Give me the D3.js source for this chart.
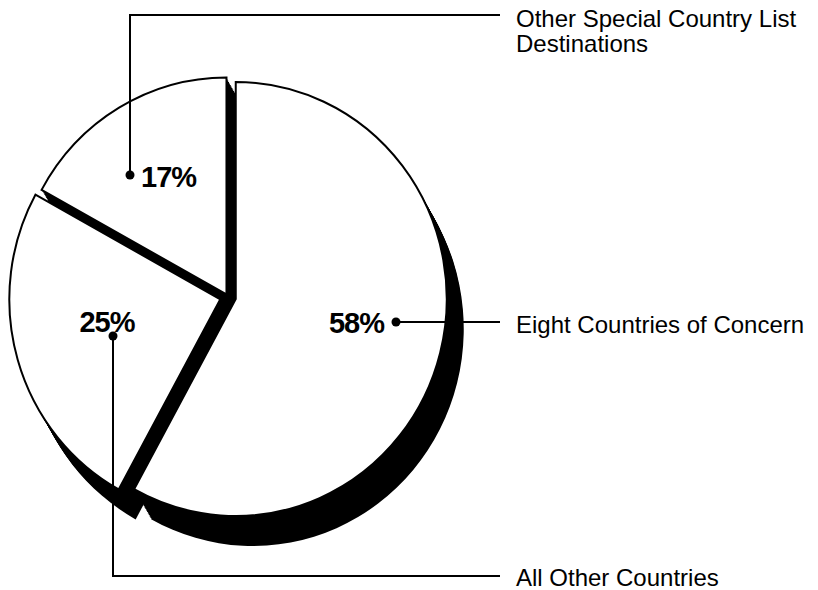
<!doctype html>
<html lang="en">
<head>
<meta charset="utf-8">
<title>Share of destinations</title>
<script src="https://cdn.jsdelivr.net/npm/d3@7/dist/d3.min.js"></script>
<style>
  body { margin: 0; background: #fff; }
  svg { display: block; }
  .pct { font-family: "Liberation Sans", Arial, sans-serif; font-weight: bold; font-size: 29px; letter-spacing: -1px; }
  .name { font-family: "Liberation Sans", Arial, sans-serif; font-size: 24px; }
</style>
</head>
<body>
<div id="chart"></div>
<script>
// data
var categories = ["Eight Countries of Concern", "All Other Countries", "Other Special Country List Destinations"];
var shares = [58, 25, 17];
var pctLabels = ["58%", "25%", "17%"];
var nameLines = [["Eight Countries of Concern"], ["All Other Countries"], ["Other Special Country List", "Destinations"]];

// layout
var width = 818, height = 590;
var cx = 228, cy = 297, rx = 211, ry = 217;
var explode = [8, 8, 3];
var shadow = { dx: 17, dy: 30 };
var rightX = 500, textX = 516;
// leader: dot position, y of the horizontal run to the right, label placement
var leaders = [
  { dot: [396, 322], runY: 322, text: [384, 333, "end"], nameDy: 11 },
  { dot: [113, 336], runY: 576, text: [107, 332, "middle"], nameDy: 10 },
  { dot: [130, 175], runY: 15, text: [141, 187, "start"], nameDy: 12 }
];

var svg = d3.select("#chart").append("svg")
  .attr("width", width)
  .attr("height", height);

var pie = d3.pie().sort(null).value(function (d) { return d; });
var arcs = pie(shares);
var arc = d3.arc().innerRadius(0).outerRadius(rx);

// offset of each slice along its middle angle
function offset(d, i) {
  var a = (d.startAngle + d.endAngle) / 2;
  return [Math.sin(a) * explode[i], -Math.cos(a) * explode[i]];
}

// black extruded side, drawn as a sweep of copies
var steps = d3.range(0, 1.0001, 0.05);
var shadowG = svg.append("g");
steps.forEach(function (t) {
  shadowG.selectAll(null)
    .data(arcs)
    .enter().append("path")
    .attr("d", arc)
    .attr("fill", "#000")
    .attr("transform", function (d, i) {
      var o = offset(d, i);
      return "translate(" + (cx + o[0] + t * shadow.dx) + "," + (cy + o[1] + t * shadow.dy) + ") scale(1," + (ry / rx) + ")";
    });
});

// white faces
svg.append("g").selectAll("path")
  .data(arcs)
  .enter().append("path")
  .attr("d", arc)
  .attr("fill", "#fff")
  .attr("stroke", "#000")
  .attr("stroke-width", 2)
  .attr("transform", function (d, i) {
    var o = offset(d, i);
    return "translate(" + (cx + o[0]) + "," + (cy + o[1]) + ") scale(1," + (ry / rx) + ")";
  });

// leaders and labels
var line = d3.line();
leaders.forEach(function (l, i) {
  var pts = (l.dot[1] === l.runY)
    ? [l.dot, [rightX, l.runY]]
    : [l.dot, [l.dot[0], l.runY], [rightX, l.runY]];
  svg.append("path")
    .attr("d", line(pts))
    .attr("fill", "none")
    .attr("stroke", "#000")
    .attr("stroke-width", 2);
  svg.append("circle")
    .attr("cx", l.dot[0])
    .attr("cy", l.dot[1])
    .attr("r", 4.5)
    .attr("fill", "#000");
  svg.append("text")
    .attr("class", "pct")
    .attr("x", l.text[0])
    .attr("y", l.text[1])
    .attr("text-anchor", l.text[2])
    .text(pctLabels[i]);

  var t = svg.append("text")
    .attr("class", "name")
    .attr("x", textX)
    .attr("y", l.runY + l.nameDy);
  nameLines[i].forEach(function (s, j) {
    t.append("tspan")
      .attr("x", textX)
      .attr("dy", j === 0 ? 0 : 25)
      .text(s);
  });
});
</script>
</body>
</html>
